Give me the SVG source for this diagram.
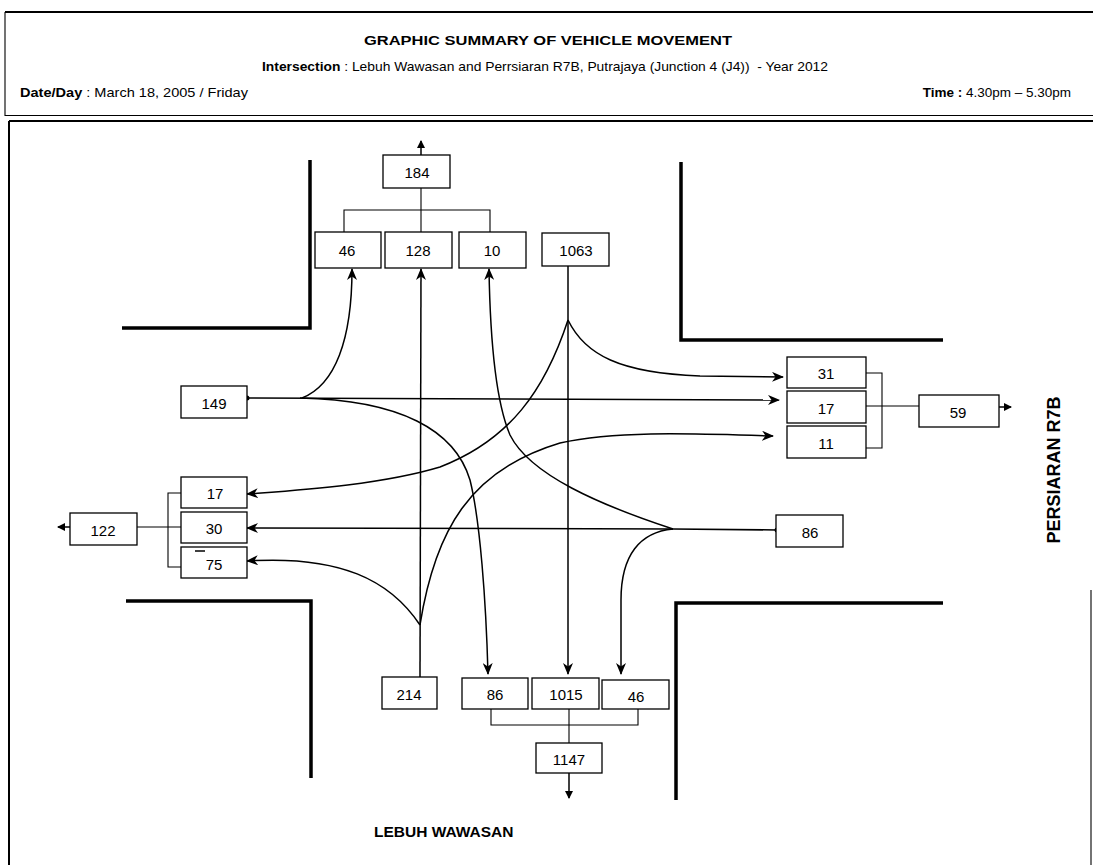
<svg xmlns="http://www.w3.org/2000/svg" width="1093" height="865" viewBox="0 0 1093 865">
<defs>
<style>
.box{fill:#fff;stroke:#000;stroke-width:1.3}
.lbl{font-family:"Liberation Sans",Arial,sans-serif;font-size:15px;text-anchor:middle;dominant-baseline:central;fill:#000}
.road{fill:none;stroke:#000;stroke-width:3.5}
.flow{fill:none;stroke:#000;stroke-width:1.5}
.thin{fill:none;stroke:#000;stroke-width:1.1}
.frame{fill:none;stroke:#000;stroke-width:2}
.hdr{font-family:"Liberation Sans",Arial,sans-serif;font-size:13.5px;fill:#000;white-space:pre}
.b{font-weight:bold}
.road-name{font-family:"Liberation Sans",Arial,sans-serif;font-weight:bold;fill:#000}
</style>
<marker id="ah" viewBox="0 0 12 10" refX="11" refY="5" markerWidth="12" markerHeight="10" markerUnits="userSpaceOnUse" orient="auto"><path d="M0,0 L12,5 L0,10 L3.5,5 z" fill="#000"/></marker>
<marker id="sa" viewBox="0 0 8 8" refX="7" refY="4" markerWidth="8" markerHeight="8" markerUnits="userSpaceOnUse" orient="auto"><path d="M0,0 L8,4 L0,8 z" fill="#000"/></marker>
<marker id="dot" viewBox="0 0 6 6" refX="3" refY="3" markerWidth="6" markerHeight="6" markerUnits="userSpaceOnUse"><circle cx="3" cy="3" r="2.5" fill="#000"/></marker>
</defs>
<rect width="1093" height="865" fill="#fff"/>

<g id="header">
<path class="frame" d="M5,12 L1093,12"/>
<path class="thin" d="M5,12 L5,116 M5,115.5 L1093,115.5"/>
<path class="frame" d="M9,121 L1093,121 M9,121 L9,865"/>
<path class="thin" d="M1091,590 L1091,865"/>
<text class="hdr b" x="548" y="45" text-anchor="middle" font-size="14" textLength="368" lengthAdjust="spacingAndGlyphs">GRAPHIC SUMMARY OF VEHICLE MOVEMENT</text>
<text class="hdr" x="262" y="71" textLength="566" lengthAdjust="spacingAndGlyphs"><tspan class="b">Intersection</tspan> : Lebuh Wawasan and Perrsiaran R7B, Putrajaya (Junction 4 (J4))  - Year 2012</text>
<text class="hdr" x="20" y="97" textLength="228" lengthAdjust="spacingAndGlyphs"><tspan class="b">Date/Day</tspan> : March 18, 2005 / Friday</text>
<text class="hdr" x="1071" y="97" text-anchor="end" font-size="14.5"><tspan class="b">Time :</tspan> 4.30pm – 5.30pm</text>
</g>

<g id="roads">
<path class="road" d="M122,328 L310,328 L310,160"/>
<path class="road" d="M681,162 L681,340 L943,340"/>
<path class="road" d="M126,601 L311,601 L311,778"/>
<path class="road" d="M943,603 L676,603 L676,800"/>
</g>

<g id="connectors">
<path class="flow" d="M421,155 L421,141" marker-end="url(#sa)"/>
<path class="thin" d="M421,188 L421,232 M344,232 L344,210 L490,210 L490,232"/>
<path class="flow" d="M247,398 L779,400" marker-start="url(#dot)" marker-end="url(#ah)"/>
<path class="flow" d="M302,398 C335,385 352,340 352,269" marker-end="url(#ah)"/>
<path class="flow" d="M300,398 C400,400 455,430 470,480 C480,520 486,600 488,674" marker-end="url(#ah)"/>
<path class="flow" d="M568,266 L568,674" marker-end="url(#ah)"/>
<path class="flow" d="M568,320 C585,355 620,373 700,376 L783,377" marker-end="url(#ah)"/>
<path class="flow" d="M568,320 C545,390 510,440 440,467 C380,485 300,490 247,494" marker-end="url(#ah)"/>
<path class="flow" d="M777,530 L673,529 L247,528" marker-start="url(#dot)" marker-end="url(#ah)"/>
<path class="flow" d="M673,529 C600,505 530,475 510,435 C495,400 490,330 489,269" marker-end="url(#ah)"/>
<path class="flow" d="M673,529 C640,532 621,555 621,600 L621,674" marker-end="url(#ah)"/>
<path class="flow" d="M420,677 L421,269" marker-end="url(#ah)"/>
<path class="flow" d="M420,625 C435,530 470,470 560,443 C620,430 700,434 773,436" marker-end="url(#ah)"/>
<path class="flow" d="M420,625 C390,580 340,555 247,561" marker-end="url(#ah)"/>
<path class="thin" d="M866,373 L882,373 L882,448 L866,448 M866,406 L919,406"/>
<path class="flow" d="M999,407 L1011,407" marker-end="url(#sa)"/>
<path class="thin" d="M181,493 L168,493 L168,567 L181,567 M137,527 L181,527"/>
<path class="flow" d="M70,527 L58,527" marker-end="url(#sa)"/>
<path class="thin" d="M491,709 L491,725 L638,725 L638,709 M569,709 L569,743"/>
<path class="flow" d="M569,773 L569,798" marker-end="url(#sa)"/>
</g>

<g id="n184"><rect class="box" x="383" y="155" width="67" height="33"/><text class="lbl" x="417" y="172">184</text></g>
<g id="n46n"><rect class="box" x="315" y="232" width="66" height="36"/><text class="lbl" x="347" y="250">46</text></g>
<g id="n128"><rect class="box" x="385" y="232" width="67" height="36"/><text class="lbl" x="418" y="250">128</text></g>
<g id="n10"><rect class="box" x="459" y="232" width="67" height="36"/><text class="lbl" x="492" y="250">10</text></g>
<g id="n1063"><rect class="box" x="542" y="233" width="67" height="33"/><text class="lbl" x="576" y="250">1063</text></g>
<g id="n149"><rect class="box" x="181" y="386" width="66" height="32"/><text class="lbl" x="214" y="403">149</text></g>
<g id="n31"><rect class="box" x="787" y="357" width="79" height="31"/><text class="lbl" x="826" y="373">31</text></g>
<g id="n17e"><rect class="box" x="787" y="391" width="79" height="32"/><text class="lbl" x="826" y="408">17</text></g>
<g id="n11"><rect class="box" x="787" y="426" width="79" height="32"/><text class="lbl" x="826" y="443">11</text></g>
<g id="n59"><rect class="box" x="919" y="395" width="80" height="32"/><text class="lbl" x="958" y="412">59</text></g>
<g id="n17w"><rect class="box" x="181" y="477" width="66" height="31"/><text class="lbl" x="215" y="493">17</text></g>
<g id="n30"><rect class="box" x="181" y="512" width="66" height="31"/><text class="lbl" x="214" y="528">30</text></g>
<g id="n75"><rect class="box" x="181" y="547" width="66" height="31"/><text class="lbl" x="214" y="564">75</text><path d="M195,551 L205,551" stroke="#000" stroke-width="1.5"/></g>
<g id="n122"><rect class="box" x="70" y="513" width="67" height="32"/><text class="lbl" x="103" y="530">122</text></g>
<g id="n86e"><rect class="box" x="776" y="515" width="67" height="32"/><text class="lbl" x="810" y="532">86</text></g>
<g id="n214"><rect class="box" x="382" y="677" width="55" height="32"/><text class="lbl" x="409" y="694">214</text></g>
<g id="n86s"><rect class="box" x="462" y="678" width="66" height="31"/><text class="lbl" x="495" y="694">86</text></g>
<g id="n1015"><rect class="box" x="532" y="678" width="67" height="31"/><text class="lbl" x="566" y="694">1015</text></g>
<g id="n46s"><rect class="box" x="602" y="680" width="67" height="29"/><text class="lbl" x="636" y="696">46</text></g>
<g id="n1147"><rect class="box" x="536" y="743" width="66" height="30"/><text class="lbl" x="569" y="759">1147</text></g>

<g id="road-labels">
<text class="road-name" x="374" y="837" font-size="15.5">LEBUH WAWASAN</text>
<text class="road-name" x="0" y="0" font-size="18" text-anchor="middle" transform="translate(1060,470) rotate(-90)">PERSIARAN R7B</text>
</g>
</svg>
